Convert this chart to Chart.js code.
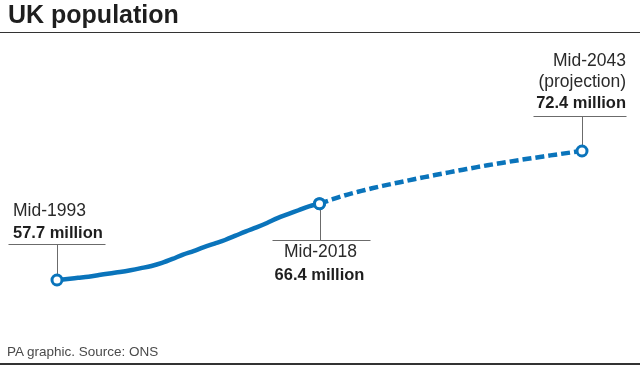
<!DOCTYPE html>
<html>
<head>
<meta charset="utf-8">
<script src="https://cdn.jsdelivr.net/npm/chart.js@4/dist/chart.umd.min.js"></script>
<style>
  html, body { margin: 0; padding: 0; background: #fff; }
  #wrap { position: relative; width: 640px; height: 365px; overflow: hidden; font-family: "Liberation Sans", Arial, sans-serif; }
  #c { position: absolute; left: 0; top: 0; }
  .t { position: absolute; white-space: nowrap; color: #222; }
  .rule { position: absolute; left: 0; width: 640px; background: #333; }
</style>
</head>
<body>
<div id="wrap">
  <canvas id="c" width="640" height="365"></canvas>
  <div class="rule" style="top:32px;height:1px;"></div>
  <div class="rule" style="top:363px;height:2px;"></div>
</div>
<script>
// ---- Data ----
const histYears  = [1993,1994,1995,1996,1997,1998,1999,2000,2001,2002,2003,2004,2005,2006,2007,2008,2009,2010,2011,2012,2013,2014,2015,2016,2017,2018];
const histValues = [57.7,57.82,57.95,58.08,58.26,58.45,58.62,58.82,59.05,59.3,59.65,60.1,60.6,61.0,61.45,61.85,62.26,62.75,63.25,63.7,64.2,64.75,65.2,65.65,66.1,66.4];
const projYears  = [2018,2019,2020,2021,2022,2023,2024,2025,2026,2027,2028,2029,2030,2031,2032,2033,2034,2035,2036,2037,2038,2039,2040,2041,2042,2043];
const projValues = [66.4,66.8,67.2,67.55,67.85,68.15,68.42,68.68,68.93,69.18,69.42,69.66,69.89,70.12,70.34,70.56,70.77,70.97,71.17,71.36,71.54,71.72,71.9,72.07,72.24,72.4];
const keyYears   = [1993, 2018, 2043];
const keyValues  = [57.7, 66.4, 72.4];
const keyLabels  = [["Mid-1993"], ["Mid-2018"], ["Mid-2043", "(projection)"]];
const keyAmounts = ["57.7 million", "66.4 million", "72.4 million"];
const titleText  = "UK population";
const sourceText = "PA graphic. Source: ONS";

const BLUE = "#0a74bb";
const GREY = "#6b6b6b";

const toPts = (xs, ys) => xs.map((x, i) => ({ x: x, y: ys[i] }));
const isKey = (ctx) => keyYears.includes(ctx.raw && ctx.raw.x);

// leader lines drawn under the data line
const leaderPlugin = {
  id: 'leaders',
  beforeDatasetsDraw(chart) {
    const c = chart.ctx, xs = chart.scales.x, ys = chart.scales.y;
    c.save();
    c.strokeStyle = GREY;
    c.lineWidth = 1;
    keyYears.forEach((yr, i) => {
      const px = Math.round(xs.getPixelForValue(yr)) + 0.5;
      const py = ys.getPixelForValue(keyValues[i]);
      let hy, x0, x1;
      if (i === 0) { hy = py - 36; x0 = px - 49; x1 = px + 48; }
      else if (i === 1) { hy = py + 36; x0 = px - 48; x1 = px + 50; }
      else { hy = py - 35; x0 = px - 49; x1 = px + 44; }
      hy = Math.round(hy) + 0.5;
      c.beginPath();
      c.moveTo(x0, hy); c.lineTo(x1, hy);
      c.moveTo(px, hy); c.lineTo(px, py);
      c.stroke();
    });
    c.restore();
  }
};

const common = {
  borderColor: BLUE, borderWidth: 4.5, fill: false,
  cubicInterpolationMode: 'monotone',
  pointRadius: (ctx) => isKey(ctx) ? 5 : 0,
  pointBackgroundColor: '#fff', pointBorderColor: BLUE, pointBorderWidth: 3,
  clip: false
};

const chart = new Chart(document.getElementById('c'), {
  type: 'line',
  data: {
    datasets: [
      Object.assign({ data: toPts(histYears, histValues), order: 1 }, common),
      Object.assign({ data: toPts(projYears, projValues), borderDash: [9, 4], borderCapStyle: 'butt', order: 0 }, common)
    ]
  },
  options: {
    responsive: false,
    animation: false,
    events: [],
    layout: { padding: { left: 57, right: 58, top: 40, bottom: 45 } },
    scales: {
      x: { type: 'linear', min: 1993, max: 2043, display: false },
      y: { type: 'linear', min: 53.142, max: 85.048, display: false }
    },
    plugins: { legend: { display: false }, tooltip: { enabled: false }, title: { display: false } }
  },
  plugins: [leaderPlugin]
});

// ---- HTML text, positioned from the chart's scales ----
const wrap = document.getElementById('wrap');
function placeText(text, x, baseline, fs, weight, align, color) {
  const d = document.createElement('div');
  d.className = 't';
  d.textContent = text;
  d.style.fontSize = fs + 'px';
  d.style.lineHeight = fs + 'px';
  d.style.fontWeight = weight;
  if (color) d.style.color = color;
  d.style.top = (baseline - 0.8465 * fs) + 'px';
  if (align === 'left') d.style.left = x + 'px';
  else if (align === 'right') d.style.right = (640 - x) + 'px';
  else { d.style.left = (x - 150) + 'px'; d.style.width = '300px'; d.style.textAlign = 'center'; }
  wrap.appendChild(d);
}

placeText(titleText, 8, 23.5, 25, 700, 'left', '#1e1e1e');
placeText(sourceText, 7, 356.5, 13.5, 400, 'left', '#4a4a4a');

const xs = chart.scales.x, ys = chart.scales.y;
keyYears.forEach((yr, i) => {
  const px = xs.getPixelForValue(yr);
  const py = ys.getPixelForValue(keyValues[i]);
  if (i === 0) {
    placeText(keyLabels[0][0], px - 44, py - 63.3, 17.5, 400, 'left', '#2a2a2a');
    placeText(keyAmounts[0], px - 44, py - 41.7, 16.5, 700, 'left', '#1e1e1e');
  } else if (i === 1) {
    placeText(keyLabels[1][0], px + 1, py + 54, 17.5, 400, 'center', '#2a2a2a');
    placeText(keyAmounts[1], px, py + 76, 16.5, 700, 'center', '#1e1e1e');
  } else {
    placeText(keyLabels[2][0], px + 44, py - 84.3, 17.5, 400, 'right', '#2a2a2a');
    placeText(keyLabels[2][1], px + 44, py - 63, 17.5, 400, 'right', '#2a2a2a');
    placeText(keyAmounts[2], px + 44, py - 42.7, 16.5, 700, 'right', '#1e1e1e');
  }
});
</script>
</body>
</html>
